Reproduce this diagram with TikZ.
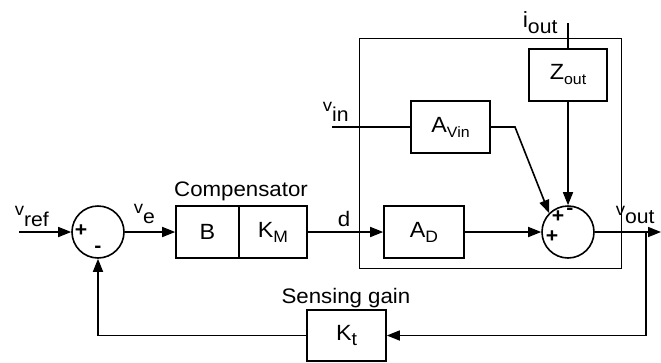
\documentclass[tikz,border=0pt]{standalone}
\usepackage{fontspec}
\setmainfont{Liberation Sans}[FakeStretch=1.06]
\usetikzlibrary{arrows.meta,calc}
\newcommand\fs[1]{\fontsize{#1}{#1}\selectfont}
\newcommand\sg[3]{{\fs{17.5}\raisebox{#1pt}{#2}}{\fs{20}#3}}
\newcommand\blab[3]{{\fs{22}#1}{\fs{#3}\raisebox{-5pt}{#2}}}
\begin{document}
\begin{tikzpicture}[x=1pt,y=-1pt,
  line width=1.6pt,
  blk/.style={draw,line width=1.6pt,minimum height=52pt,inner sep=0pt,font=\fs{22}},
  sumj/.style={draw,circle,line width=1.6pt,minimum size=52pt,inner sep=0pt},
  arr/.style={-{Triangle[length=13pt,width=10pt]}},
  lab/.style={inner sep=0pt,font=\fs{21}},
  sgn/.style={inner sep=0pt,font=\fs{20}\bfseries}]
\useasboundingbox (0,0) rectangle (661,362);
% outer plant box
\draw[line width=0.9pt] (359,38) rectangle (621,268);
% blocks
\node[sumj] (s1) at (98,232) {};
\node[blk,minimum width=63pt] (B) at (207.5,232) {B};
\node[blk,minimum width=68pt] (KM) at (273,232) {\blab{K}{M}{16.5}};
\node[blk,minimum width=80pt] (AD) at (424,232) {\blab{A}{D}{16.5}};
\node[blk,minimum width=78pt] (Z) at (568,75) {\blab{Z}{out}{15}};
\node[blk,minimum width=79pt] (AV) at (450.5,127) {\blab{A}{Vin}{15}};
\node[blk,minimum width=79pt,minimum height=51pt] (Kt) at (346.5,335.5) {\blab{K}{t}{18.5}};
\node[sumj] (s2) at (568,232) {};
% coordinates
\coordinate (vrefin) at (19,232);
\coordinate (vinin) at (332,127);
\coordinate (ioutin) at (568,23);
\coordinate (outend) at (661,232);
\coordinate (br) at (646,232);
\coordinate (bend) at (515,127);
% connectors
\draw[arr] (vrefin) -- (s1.west);
\draw[arr] (s1.east) -- (B.west);
\draw[arr] (KM.east) -- (AD.west);
\draw[arr] (AD.east) -- (s2.west);
\draw (vinin) -- (AV.west);
\draw[arr] (AV.east) -- (bend) -- (s2.135);
\draw (ioutin) -- (Z.north);
\draw[arr] (Z.south) -- (s2.north);
\draw[arr] (s2.east) -- (outend);
\draw[arr] (br) |- (Kt.east);
\draw[arr] (Kt.west) -| (s1.south);
% signs
\node[sgn] (p1) at (81,231) {+};
\node[sgn] (m1) at (98,249) {-};
\node[sgn] (p2) at (558,216.5) {+};
\node[sgn] (m2) at (570,211) {-};
\node[sgn] (p3) at (552,237) {+};
% labels
\node[lab] (lc) at (241,191) {Compensator};
\node[lab] (ls) at (346,298) {Sensing gain};
\node[lab] (ld) at (344,219) {d};
\node[inner sep=0pt,anchor=base west] (lvref) at (14,226) {\sg{11}{v}{ref}};
\node[inner sep=0pt,anchor=base west] (lve) at (133,223) {\sg{10}{v}{e}};
\node[inner sep=0pt,anchor=base west] (lvin) at (322,121) {\sg{10}{v}{in}};
\node[inner sep=0pt,anchor=base west] (liout) at (522,33) {\sg{6}{\fs{22}i}{out}};
\node[inner sep=0pt,anchor=base west] (lvout) at (615,223) {\sg{8}{v}{out}};
\end{tikzpicture}
\end{document}
